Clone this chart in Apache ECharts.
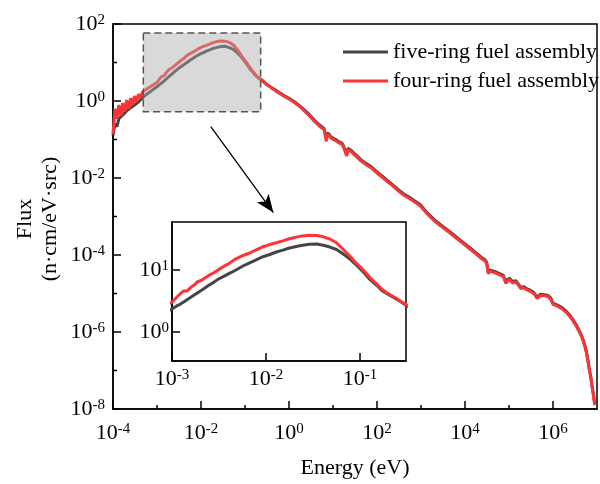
<!DOCTYPE html>
<html>
<head>
<meta charset="utf-8">
<script src="https://cdn.jsdelivr.net/npm/echarts@6/dist/echarts.min.js"></script>
<style>html,body{margin:0;padding:0;background:#fff}#c{width:600px;height:484px}</style>
</head>
<body>
<div id="c"></div>
<script>
// log10 of energy (eV)
const log10Energy = [
 -4.000,-3.956,-3.911,-3.867,-3.822,-3.778,-3.733,-3.689,-3.644,-3.600,-3.556,-3.511,-3.467,-3.422,-3.378,-3.333,-3.289,-3.200,-3.100,
 -3.00,-2.95,-2.91,-2.88,-2.84,-2.80,-2.76,-2.73,-2.69,-2.65,-2.60,-2.56,-2.51,-2.46,-2.41,-2.37,-2.32,-2.25,-2.18,-2.11,-2.04,-1.96,-1.89,-1.82,-1.76,-1.68,-1.61,-1.54,-1.46,-1.39,-1.32,-1.25,-1.19,-1.11,-1.04,-0.96,-0.89,-0.82,-0.76,-0.68,-0.61,-0.55,-0.50,
 -0.40,-0.29,-0.15,0.00,0.15,0.30,0.45,0.58,0.70,0.80,0.83,0.85,0.87,0.92,0.96,1.00,1.04,1.10,1.15,1.20,1.24,1.27,1.31,1.34,1.38,1.43,1.49,1.55,1.64,1.75,1.87,2.00,2.10,2.22,2.35,2.47,2.60,2.72,2.85,2.98,3.10,3.20,3.30,3.45,3.64,3.80,4.00,4.15,4.30,4.38,4.45,4.49,4.53,4.56,4.60,4.70,4.80,4.87,4.93,4.97,5.02,5.07,5.11,5.16,5.20,5.27,5.33,5.40,5.49,5.56,5.64,5.71,5.80,5.89,5.95,6.00,6.10,6.22,6.30,6.38,6.45,6.53,6.60,6.67,6.72,6.76,6.80,6.82,6.86,6.89,6.95
];
// log10 of flux, five-ring fuel assembly
const log10FluxFive = [
 -0.897,-0.59,-0.667,-0.462,-0.513,-0.359,-0.41,-0.256,-0.282,-0.179,-0.179,-0.103,-0.077,-0.026,0.026,0.077,0.128,0.20,0.29,
 0.37,0.42,0.45,0.48,0.52,0.56,0.60,0.63,0.67,0.71,0.76,0.80,0.85,0.89,0.93,0.96,1.00,1.06,1.11,1.16,1.21,1.25,1.29,1.32,1.35,1.38,1.40,1.415,1.42,1.40,1.37,1.33,1.27,1.18,1.08,0.96,0.84,0.75,0.66,0.59,0.53,0.47,0.42,
 0.35,0.27,0.17,0.07,-0.04,-0.18,-0.34,-0.50,-0.63,-0.72,-0.77,-1.01,-0.83,-0.87,-0.94,-0.90,-0.99,-1.03,-1.07,-1.09,-1.17,-1.14,-1.39,-1.23,-1.20,-1.30,-1.37,-1.43,-1.53,-1.62,-1.71,-1.84,-1.93,-2.05,-2.17,-2.29,-2.41,-2.49,-2.59,-2.69,-2.85,-2.97,-3.08,-3.22,-3.38,-3.53,-3.71,-3.85,-3.99,-4.07,-4.12,-4.18,-4.45,-4.39,-4.38,-4.44,-4.49,-4.53,-4.70,-4.63,-4.61,-4.69,-4.71,-4.67,-4.69,-4.84,-4.82,-4.87,-4.92,-4.97,-5.10,-5.02,-5.03,-5.05,-5.12,-5.25,-5.30,-5.38,-5.46,-5.56,-5.67,-5.82,-5.97,-6.15,-6.33,-6.51,-6.77,-6.92,-7.17,-7.41,-7.87
];
// log10 of flux, four-ring fuel assembly
const log10FluxFour = [
 -0.846,-0.205,-0.462,-0.103,-0.385,-0.051,-0.282,0.026,-0.205,0.077,-0.103,0.128,-0.026,0.179,0.077,0.231,0.282,0.34,0.41,
 0.48,0.56,0.62,0.66,0.66,0.72,0.76,0.81,0.83,0.87,0.92,0.95,1.00,1.05,1.09,1.13,1.18,1.23,1.27,1.32,1.37,1.41,1.44,1.47,1.50,1.53,1.55,1.56,1.555,1.535,1.50,1.44,1.35,1.23,1.11,0.99,0.87,0.77,0.68,0.60,0.54,0.48,0.43,
 0.34,0.256,0.15,0.05,-0.06,-0.20,-0.37,-0.53,-0.66,-0.75,-0.80,-1.05,-0.86,-0.90,-0.97,-0.93,-1.02,-1.06,-1.10,-1.12,-1.20,-1.17,-1.43,-1.26,-1.23,-1.33,-1.40,-1.46,-1.56,-1.65,-1.74,-1.87,-1.96,-2.08,-2.20,-2.32,-2.44,-2.52,-2.62,-2.72,-2.88,-3.00,-3.11,-3.25,-3.41,-3.56,-3.74,-3.88,-4.02,-4.10,-4.15,-4.21,-4.49,-4.42,-4.41,-4.47,-4.52,-4.56,-4.74,-4.66,-4.64,-4.72,-4.74,-4.70,-4.72,-4.87,-4.85,-4.90,-4.95,-5.00,-5.13,-5.05,-5.06,-5.08,-5.15,-5.28,-5.33,-5.41,-5.49,-5.59,-5.70,-5.85,-6.00,-6.18,-6.36,-6.54,-6.80,-6.95,-7.20,-7.44,-7.90
];
const seriesNames = ['five-ring fuel assembly', 'four-ring fuel assembly'];
// tick positions (log10 values)
const mainXTickLabels = [-4, -2, 0, 2, 4, 6];
const mainXMinorTicks = [-3, -1, 1, 3, 5];
const mainYTickLabels = [-8, -6, -4, -2, 0, 2];
const mainYMinorTicks = [-7, -5, -3, -1, 1];
const insetXTickLabels = [-3, -2, -1];
const insetYTickLabels = [0, 1];
// axis ranges (log10)
const mainXRange = [-4, 7], mainYRange = [-8, 2];
const insetXRange = [-3, -0.511], insetYRange = [-0.468, 1.774];
// zoom box (log10 E, log10 flux) and arrow
const zoomBox = [[-3.311, 1.769], [-0.644, -0.282]];
const arrowFrom = [-1.778, -0.667];
const arrowTo = [-0.356, -2.897];

const FONT = 'Liberation Serif';
const rich = {
  b: {fontSize: 22, fontFamily: FONT, color: '#000'},
  s: {fontSize: 15, fontFamily: FONT, color: '#000', padding: [0, 0, 8, 0]}
};
function powFmt(allowed) {
  return function (v) {
    const r = Math.round(v);
    if (Math.abs(v - r) > 1e-6 || allowed.indexOf(r) < 0) return '';
    return '{b|10}{s|' + r + '}';
  };
}
const fiveData = log10Energy.map((e, i) => [e, log10FluxFive[i]]);
const fourData = log10Energy.map((e, i) => [e, log10FluxFour[i]]);
const GRAY = '#454545', RED = '#ff3333';
const axisLine = {show: true, onZero: false, lineStyle: {color: '#000', width: 1.5}};

// grid boxes
const mainGrid = {left: 113, top: 24, right: -8, bottom: 70};
const insetGrid = {left: 172, top: 222, width: 234, height: 139};

// inward tick marks: [x, y, dxPixels, dyPixels]
const MAJ = 8, MIN = 4;
const mainTicks = [].concat(
  mainXTickLabels.map(v => [v, mainYRange[0], 0, -MAJ]),
  mainXMinorTicks.map(v => [v, mainYRange[0], 0, -MIN]),
  mainYTickLabels.map(v => [mainXRange[0], v, MAJ, 0]),
  mainYMinorTicks.map(v => [mainXRange[0], v, MIN, 0])
);
const insetTicks = [].concat(
  insetXTickLabels.map(v => [v, insetYRange[0], 0, -MAJ]),
  insetYTickLabels.map(v => [insetXRange[0], v, MAJ, 0])
);

const nameGraphics = [
  {type: 'text', x: 25, y: 219, rotation: Math.PI / 2, z: 100,
   style: {text: 'Flux', font: '22px "Liberation Serif"', fill: '#000', align: 'center', verticalAlign: 'middle'}},
  {type: 'text', x: 50, y: 219, rotation: Math.PI / 2, z: 100,
   style: {text: '(n\u00b7cm/eV\u00b7src)', font: '22px "Liberation Serif"', fill: '#000', align: 'center', verticalAlign: 'middle'}}
];

const chart = echarts.init(document.getElementById('c'), null, {renderer: 'canvas'});
chart.setOption({
  animation: false,
  backgroundColor: '#fff',
  textStyle: {fontFamily: FONT},
  legend: {
    orient: 'vertical', left: 338, top: 36, itemWidth: 45, itemHeight: 3, itemGap: 7, icon: 'rect',
    data: seriesNames, selectedMode: false,
    textStyle: {fontFamily: FONT, fontSize: 22, color: '#000', lineHeight: 22}
  },
  grid: [
    Object.assign({show: true, borderColor: '#000', borderWidth: 1.5, backgroundColor: 'transparent'}, mainGrid),
    Object.assign({show: true, borderColor: '#000', borderWidth: 1.5, backgroundColor: '#fff'}, insetGrid)
  ],
  xAxis: [
    {type: 'value', gridIndex: 0, position: 'bottom', min: mainXRange[0], max: mainXRange[1], interval: 2,
     axisLine: axisLine, splitLine: {show: false}, axisTick: {show: false},
     axisLabel: {margin: 13, formatter: powFmt(mainXTickLabels), rich: rich},
     name: 'Energy (eV)', nameLocation: 'middle', nameGap: 48,
     nameTextStyle: {fontFamily: FONT, fontSize: 22, color: '#000'}},
    {type: 'value', gridIndex: 1, position: 'bottom', min: insetXRange[0], max: insetXRange[1], interval: 1,
     axisLine: axisLine, splitLine: {show: false}, axisTick: {show: false},
     axisLabel: {margin: 7, formatter: powFmt(insetXTickLabels), rich: rich}}
  ],
  yAxis: [
    {type: 'value', gridIndex: 0, position: 'left', min: mainYRange[0], max: mainYRange[1], interval: 2,
     axisLine: axisLine, splitLine: {show: false}, axisTick: {show: false},
     axisLabel: {margin: 8, formatter: powFmt(mainYTickLabels), rich: rich}},
    {type: 'value', gridIndex: 1, position: 'left', min: insetYRange[0], max: insetYRange[1],
     axisLine: axisLine, splitLine: {show: false}, axisTick: {show: false},
     axisLabel: {margin: 3, customValues: insetYTickLabels, formatter: powFmt(insetYTickLabels), rich: rich}}
  ],
  graphic: nameGraphics,
  series: [
    {name: seriesNames[0], type: 'line', xAxisIndex: 0, yAxisIndex: 0, data: fiveData, symbol: 'none', showSymbol: false,
     lineStyle: {color: GRAY, width: 3}, itemStyle: {color: GRAY}, z: 2, clip: true},
    {name: seriesNames[1], type: 'line', xAxisIndex: 0, yAxisIndex: 0, data: fourData, symbol: 'none', showSymbol: false,
     lineStyle: {color: RED, width: 3}, itemStyle: {color: RED}, z: 3, clip: true},
    {name: 'zoom', type: 'line', xAxisIndex: 0, yAxisIndex: 0, data: [], symbol: 'none', z: 6, silent: true,
     markArea: {silent: true, z: 10,
       itemStyle: {color: 'rgba(170,170,170,0.45)', borderColor: '#555', borderWidth: 1.5, borderType: [7, 4]},
       data: [[{coord: zoomBox[0]}, {coord: zoomBox[1]}]]},
     markLine: {silent: true, z: 10, symbol: ['none', 'arrow'], symbolSize: [11, 18], label: {show: false},
       lineStyle: {color: '#000', width: 1.3, type: 'solid'},
       data: [[{coord: arrowFrom}, {coord: arrowTo}]]}},
    {name: seriesNames[0], type: 'line', xAxisIndex: 1, yAxisIndex: 1, data: fiveData, symbol: 'none', showSymbol: false,
     lineStyle: {color: GRAY, width: 3}, itemStyle: {color: GRAY}, z: 4, clip: true},
    {name: seriesNames[1], type: 'line', xAxisIndex: 1, yAxisIndex: 1, data: fourData, symbol: 'none', showSymbol: false,
     lineStyle: {color: RED, width: 3}, itemStyle: {color: RED}, z: 5, clip: true}
  ]
});

// pixel position of a value on an axis; uses the library's axis, falls back to the grid box
function axisPx(kind, idx, v) {
  let p = NaN;
  try {
    const finder = kind === 'x' ? {xAxisIndex: idx} : {yAxisIndex: idx};
    const r = chart.convertToPixel(finder, v);
    p = Array.isArray(r) ? r[kind === 'x' ? 0 : 1] : r;
  } catch (e) { p = NaN; }
  if (typeof p === 'number' && isFinite(p)) return p;
  const W = 600, H = 484;
  if (idx === 0) {
    const l = mainGrid.left, t = mainGrid.top, w = W - mainGrid.left - mainGrid.right, h = H - mainGrid.top - mainGrid.bottom;
    return kind === 'x' ? l + (v - mainXRange[0]) / (mainXRange[1] - mainXRange[0]) * w
                        : t + (mainYRange[1] - v) / (mainYRange[1] - mainYRange[0]) * h;
  }
  return kind === 'x' ? insetGrid.left + (v - insetXRange[0]) / (insetXRange[1] - insetXRange[0]) * insetGrid.width
                      : insetGrid.top + (insetYRange[1] - v) / (insetYRange[1] - insetYRange[0]) * insetGrid.height;
}
const tickGraphics = [];
function addTicks(idx, list) {
  list.forEach(function (t) {
    const px = axisPx('x', idx, t[0]), py = axisPx('y', idx, t[1]);
    tickGraphics.push({type: 'line', silent: true, z: 100,
      shape: {x1: px, y1: py, x2: px + t[2], y2: py + t[3]},
      style: {stroke: '#000', lineWidth: 1.5}});
  });
}
addTicks(0, mainTicks);
addTicks(1, insetTicks);
chart.setOption({graphic: {elements: nameGraphics.concat(tickGraphics)}});
</script>
</body>
</html>
